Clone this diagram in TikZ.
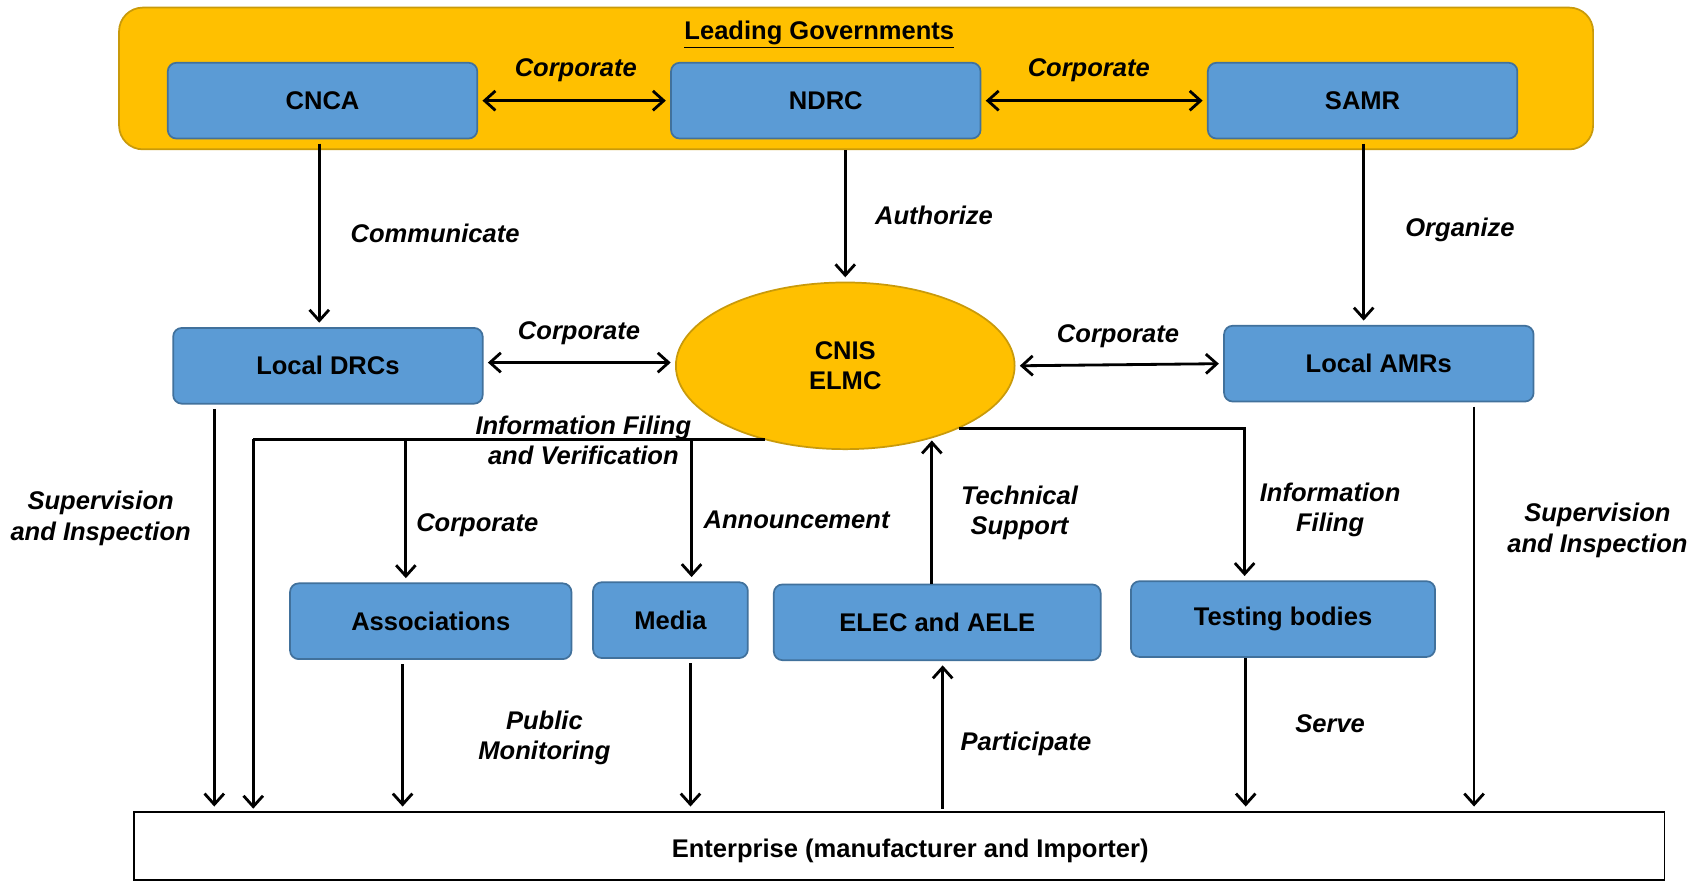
\documentclass[tikz,border=0pt]{standalone}
\usepackage{fontspec}
\setmainfont{Liberation Sans}
\usetikzlibrary{arrows.meta,shapes.geometric}
\definecolor{govy}{HTML}{FFC000}
\definecolor{govb}{HTML}{C99A0A}
\definecolor{boxb}{HTML}{5B9BD5}
\definecolor{boxe}{HTML}{41719C}
\begin{document}
\begin{tikzpicture}[x=0.5pt,y=-0.5pt,
 every node/.style={font=\fontsize{11.8}{14}\selectfont\bfseries},
 bluebox/.style={draw=boxe,fill=boxb,rounded corners=4pt,line width=0.8pt,minimum width=143pt,minimum height=35pt,inner sep=0pt},
 lbl/.style={font=\fontsize{11.8}{14}\selectfont\bfseries\itshape,align=center},
 arr/.style={line width=1.3pt,-{Straight Barb[length=5pt,width=9pt]},shorten >=2pt},
 darr/.style={line width=1.3pt,{Straight Barb[length=5pt,width=9pt]}-{Straight Barb[length=5pt,width=9pt]},shorten >=2pt,shorten <=2pt},
 ln/.style={line width=1.3pt}]
\fill[white] (0,0) rectangle (1568,814);
\useasboundingbox (0,0) rectangle (1568,814);
% top group
\node[draw=govb,fill=govy,rounded corners=11pt,line width=0.8pt,minimum width=681pt,minimum height=65.5pt] (gov) at (791,72.5) {};
\node (govt) at (757,32) {\underline{Leading Governments}};
\node[bluebox] (cnca) at (298,93) {\raisebox{-1pt}{CNCA}\hspace{9pt}};
\node[bluebox] (ndrc) at (763,93) {NDRC\hspace{5pt}};
\node[bluebox] (samr) at (1259,93) {SAMR\hspace{10pt}};
% middle
\node[bluebox] (ldrc) at (303,338) {Local DRCs\hspace{7pt}};
\node[bluebox] (lamr) at (1274,336) {Local AMRs};
\node[ellipse,draw=govb,fill=govy,minimum width=156.5pt,minimum height=77pt,align=center,inner sep=0pt,line width=0.8pt] (cnis) at (781,338) {CNIS\\ELMC};
% lower boxes
\node[bluebox,minimum width=130pt] (assoc) at (398,574) {\raisebox{-1pt}{Associations}\hspace{3pt}};
\node[bluebox,minimum width=71.5pt] (media) at (619.5,573) {Media};
\node[bluebox,minimum width=151pt] (elec) at (866,575) {\raisebox{-1pt}{ELEC and AELE}};
\node[bluebox,minimum width=140.5pt] (test) at (1185.5,572) {\raisebox{-1pt}{Testing bodies}};
% enterprise
\node[draw,line width=0.8pt,minimum width=707pt,minimum height=31.5pt,inner sep=0pt] (ent) at (831,781.5) {};
\node (entt) at (841,786) {Enterprise (manufacturer and Importer)};
% coordinates
\coordinate (ifvS) at (707,406);
\coordinate (ifvL) at (234,406);
\coordinate (jA) at (375,406);
\coordinate (jM) at (639,406);
\coordinate (rS) at (886,396);
\coordinate (rC) at (1150,396);
\coordinate (tsTip) at (861,407);
% connectors
\draw[darr] (cnca.east) -- (ndrc.west);
\draw[darr] (ndrc.east) -- (samr.west);
\draw[arr,shorten <=2pt] (cnca.south -| 295,0) -- (ldrc.north -| 295,0);
\draw[arr] (gov.south -| 781,0) -- (cnis.north);
\draw[arr,shorten <=2pt] (samr.south -| 1260,0) -- (lamr.north -| 1260,0);
\draw[darr] ([yshift=1.5pt]ldrc.east) -- ([yshift=1.5pt]cnis.west);
\draw[darr] (cnis.east) -- (lamr.west);
\draw[arr,shorten <=2pt] (ldrc.south -| 198,0) -- (ent.north -| 198,0);
\draw[ln] (ifvS) -- (ifvL);
\draw[arr,shorten >=1pt] (ifvL) -- (ent.north -| ifvL);
\draw[arr] (jA) -- (assoc.north -| jA);
\draw[arr] (jM) -- (media.north -| jM);
\draw[arr] (rS) -- (rC) -- (test.north -| rC);
\draw[arr,shorten >=0pt] (elec.north -| tsTip) -- (tsTip);
\draw[arr,shorten <=2pt] (assoc.south -| 372,0) -- (ent.north -| 372,0);
\draw[arr,shorten <=2pt] (media.south -| 638,0) -- (ent.north -| 638,0);
\draw[arr,shorten <=1pt] (ent.north -| 871,0) -- (elec.south -| 871,0);
\draw[arr] (test.south -| 1151,0) -- (ent.north -| 1151,0);
\draw[arr,shorten <=2pt] (lamr.south -| 1362,0) -- (ent.north -| 1362,0);
% labels
\node[lbl] (c1) at (532,65) {Corporate};
\node[lbl] (c2) at (1006,65) {Corporate};
\node[lbl] (comm) at (402,216) {Communicate};
\node[lbl] (auth) at (863,199) {Authorize};
\node[lbl] (org) at (1349,212) {Organize};
\node[lbl] (c3) at (535,308) {Corporate};
\node[lbl] (c4) at (1033,311) {Corporate};
\node[lbl] (sup1) at (93,479) {Supervision\\and Inspection};
\node[lbl] (ifv) at (539,407) {Information Filing\\and Verification};
\node[lbl] (c5) at (441,485) {Corporate};
\node[lbl] (ann) at (736,480) {Announcement};
\node[lbl] (tech) at (942,474) {Technical\\Support};
\node[lbl] (inf) at (1229,471) {Information\\Filing};
\node[lbl] (sup2) at (1476,490) {Supervision\\and Inspection};
\node[lbl] (pub) at (503,682) {Public\\Monitoring};
\node[lbl] (part) at (948,687) {Participate};
\node[lbl] (serve) at (1229,669) {Serve};
\end{tikzpicture}
\end{document}
